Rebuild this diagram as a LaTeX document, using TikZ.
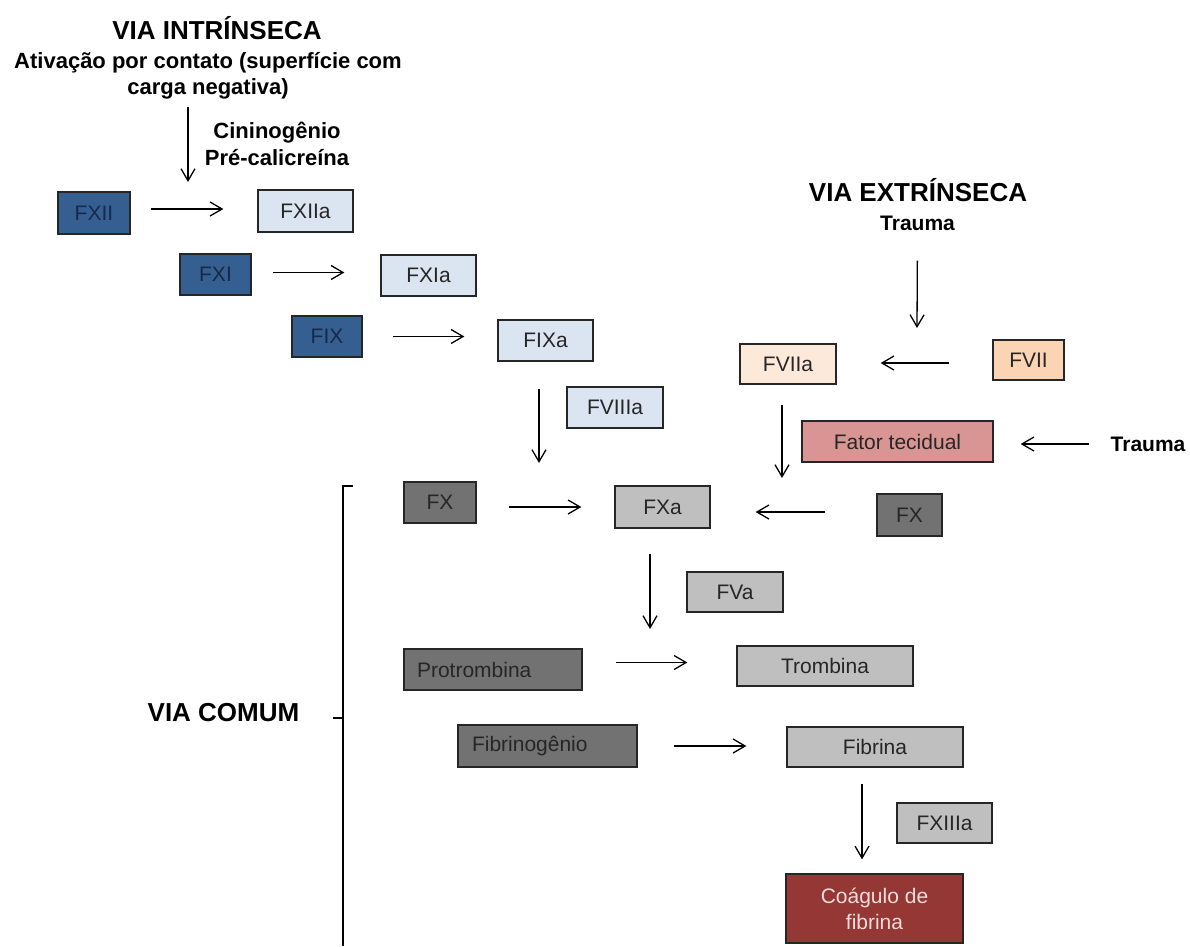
\documentclass[tikz,border=0pt]{standalone}
\usepackage{fontspec}
\setmainfont{Liberation Sans}
\usetikzlibrary{arrows.meta}
\definecolor{boxline}{HTML}{262626}
\definecolor{boxtext}{HTML}{262626}
\definecolor{bluetext}{HTML}{17294A}
\definecolor{darkblue}{HTML}{365F91}
\definecolor{lightblue}{HTML}{DBE5F1}
\definecolor{peachlight}{HTML}{FDE9D9}
\definecolor{peach}{HTML}{FBD4B4}
\definecolor{rose}{HTML}{D99594}
\definecolor{darkgray}{HTML}{727272}
\definecolor{lightgray}{HTML}{BFBFBF}
\definecolor{darkred}{HTML}{953734}
\definecolor{pinktext}{HTML}{F2DCDB}
\tikzset{
  bx/.style={draw=boxline, line width=1.3pt, inner sep=0pt, font=\fontsize{21}{26}\selectfont, text=boxtext},
  dblue/.style={bx, fill=darkblue, text=bluetext},
  lblue/.style={bx, fill=lightblue},
  dgray/.style={bx, fill=darkgray},
  lgray/.style={bx, fill=lightgray},
  arr/.style={line width=1.3pt, -{Straight Barb[length=12pt,width=14pt,line width=1.3pt]}},
  ttl/.style={font=\bfseries\fontsize{26}{30}\selectfont},
  lbl/.style={font=\bfseries\fontsize{22}{26}\selectfont, align=center},
  trm/.style={font=\bfseries\fontsize{21}{26}\selectfont, inner sep=0pt},
}
\begin{document}
\begin{tikzpicture}[x=1pt,y=-1pt]
\useasboundingbox[fill=white] (0,0) rectangle (1190,946);

% titles and labels
\node[ttl] (vint) at (217,28) {VIA INTRÍNSECA};
\node[lbl] (ativ) at (208,76) {Ativação por contato (superfície com\\carga negativa)};
\node[lbl, font=\bfseries\fontsize{22}{27}\selectfont] (cini) at (277,143.5) {Cininogênio\\Pré-calicreína};
\node[ttl] (vext) at (918,190) {VIA EXTRÍNSECA};
\node[trm] (trauma1) at (917.5,223) {Trauma};
\node[trm] (trauma2) at (1148,444) {Trauma};
\node[ttl] (vcom) at (223.5,713) {VIA COMUM};

% intrinsic boxes
\node[dblue, minimum width=72pt, minimum height=42pt] (FXII) at (94,213) {FXII};
\node[lblue, minimum width=95pt, minimum height=42pt] (FXIIa) at (305.5,211) {FXIIa};
\node[dblue, minimum width=71pt, minimum height=41pt] (FXI) at (215.5,274.5) {FXI};
\node[lblue, minimum width=95pt, minimum height=41pt] (FXIa) at (428.5,275.5) {FXIa};
\node[dblue, minimum width=70pt, minimum height=41pt] (FIX) at (327,336.5) {FIX};
\node[lblue, minimum width=95pt, minimum height=41pt] (FIXa) at (545.5,340.5) {FIXa};
\node[lblue, minimum width=96pt, minimum height=41pt] (FVIIIa) at (615,407.5) {FVIIIa};

% extrinsic boxes
\node[bx, fill=peachlight, minimum width=96pt, minimum height=40pt] (FVIIa) at (788,364) {FVIIa};
\node[bx, fill=peach, minimum width=71pt, minimum height=40pt] (FVII) at (1028.5,360) {FVII};
\node[bx, fill=rose, minimum width=191pt, minimum height=41pt] (FT) at (897.5,441.5) {Fator tecidual};

% common pathway boxes
\node[dgray, minimum width=72pt, minimum height=41pt] (FXl) at (440,502.5) {FX};
\node[lgray, minimum width=95pt, minimum height=42pt] (FXa) at (662.5,507) {FXa};
\node[dgray, minimum width=65pt, minimum height=42pt] (FXr) at (909.5,515) {FX};
\node[lgray, minimum width=96pt, minimum height=40pt] (FVa) at (735,592) {FVa};
\node[dgray, inner xsep=13pt, text width=152pt, align=left, minimum height=41pt] (Prot) at (493,669.5) {Protrombina};
\node[lgray, minimum width=176pt, minimum height=40pt] (Trom) at (825,666) {Trombina};
\node[dgray, inner xsep=14pt, text width=151pt, align=left, minimum height=42pt] (Fibg) at (547.5,746) {Fibrinogênio};
\node[lgray, minimum width=176pt, minimum height=40pt] (Fib) at (875,747) {Fibrina};
\node[lgray, minimum width=95pt, minimum height=40pt] (FXIIIa) at (944.5,823) {FXIIIa};
\node[bx, fill=darkred, text=pinktext, align=center, minimum width=177pt, minimum height=69pt] (Coag) at (874.5,908.5) {Coágulo de\\fibrina};

% free ends
\coordinate (a0s) at (188,107);
\coordinate (a0e) at (188,182);
\coordinate (j1) at (539,463);
\coordinate (j2) at (782,478);
\coordinate (j3) at (650,629);
\coordinate (t1e) at (917,328);

% connectors (yshift is in page direction: negative = downwards)
\draw[arr] (a0s) -- (a0e);
\draw[arr, shorten <=20pt, shorten >=34pt] ([yshift=4pt]FXII.east) -- ([yshift=4pt]FXII.east -| FXIIa.west);
\draw[arr, shorten <=21pt, shorten >=36pt] ([yshift=2pt]FXI.east) -- ([yshift=2pt]FXI.east -| FXIa.west);
\draw[arr, shorten <=30pt, shorten >=33pt] (FIX.east) -- (FIX.east -| FIXa.west);
\draw[arr] ([xshift=-6.5pt,yshift=-27pt]FIXa.south) -- (j1);
\draw[arr, shorten <=30pt] (trauma1.south) -- (t1e);
\draw[arr, shorten <=43pt, shorten >=44pt] ([yshift=-3pt]FVII.west) -- ([yshift=-3pt]FVII.west -| FVIIa.east);
\draw[arr] ([xshift=-6pt,yshift=-20pt]FVIIa.south) -- (j2);
\draw[arr, shorten <=21pt, shorten >=27pt] (trauma2.west) -- (trauma2.west -| FT.east);
\draw[arr, shorten <=32pt, shorten >=33pt] ([yshift=-4.5pt]FXl.east) -- ([yshift=-4.5pt]FXl.east -| FXa.west);
\draw[arr, shorten <=51pt, shorten >=45pt] ([yshift=3pt]FXr.west) -- ([yshift=3pt]FXr.west -| FXa.east);
\draw[arr] ([xshift=-12.5pt,yshift=-25pt]FXa.south) -- (j3);
\draw[arr, shorten <=33pt, shorten >=49pt] ([yshift=7pt]Prot.east) -- ([yshift=7pt]Prot.east -| Trom.west);
\draw[arr, shorten <=36pt, shorten >=40pt] (Fibg.east) -- (Fibg.east -| Fib.west);
\draw[arr, shorten <=16pt, shorten >=14pt] ([xshift=-13pt]Fib.south) -- ([xshift=-13pt]Fib.south |- Coag.north);

% bracket of the common pathway
\draw[line width=1.3pt] (353,486) -- (343,486) -- (343,946);
\draw[line width=1.3pt] (333,718) -- (343,718);
\end{tikzpicture}
\end{document}
